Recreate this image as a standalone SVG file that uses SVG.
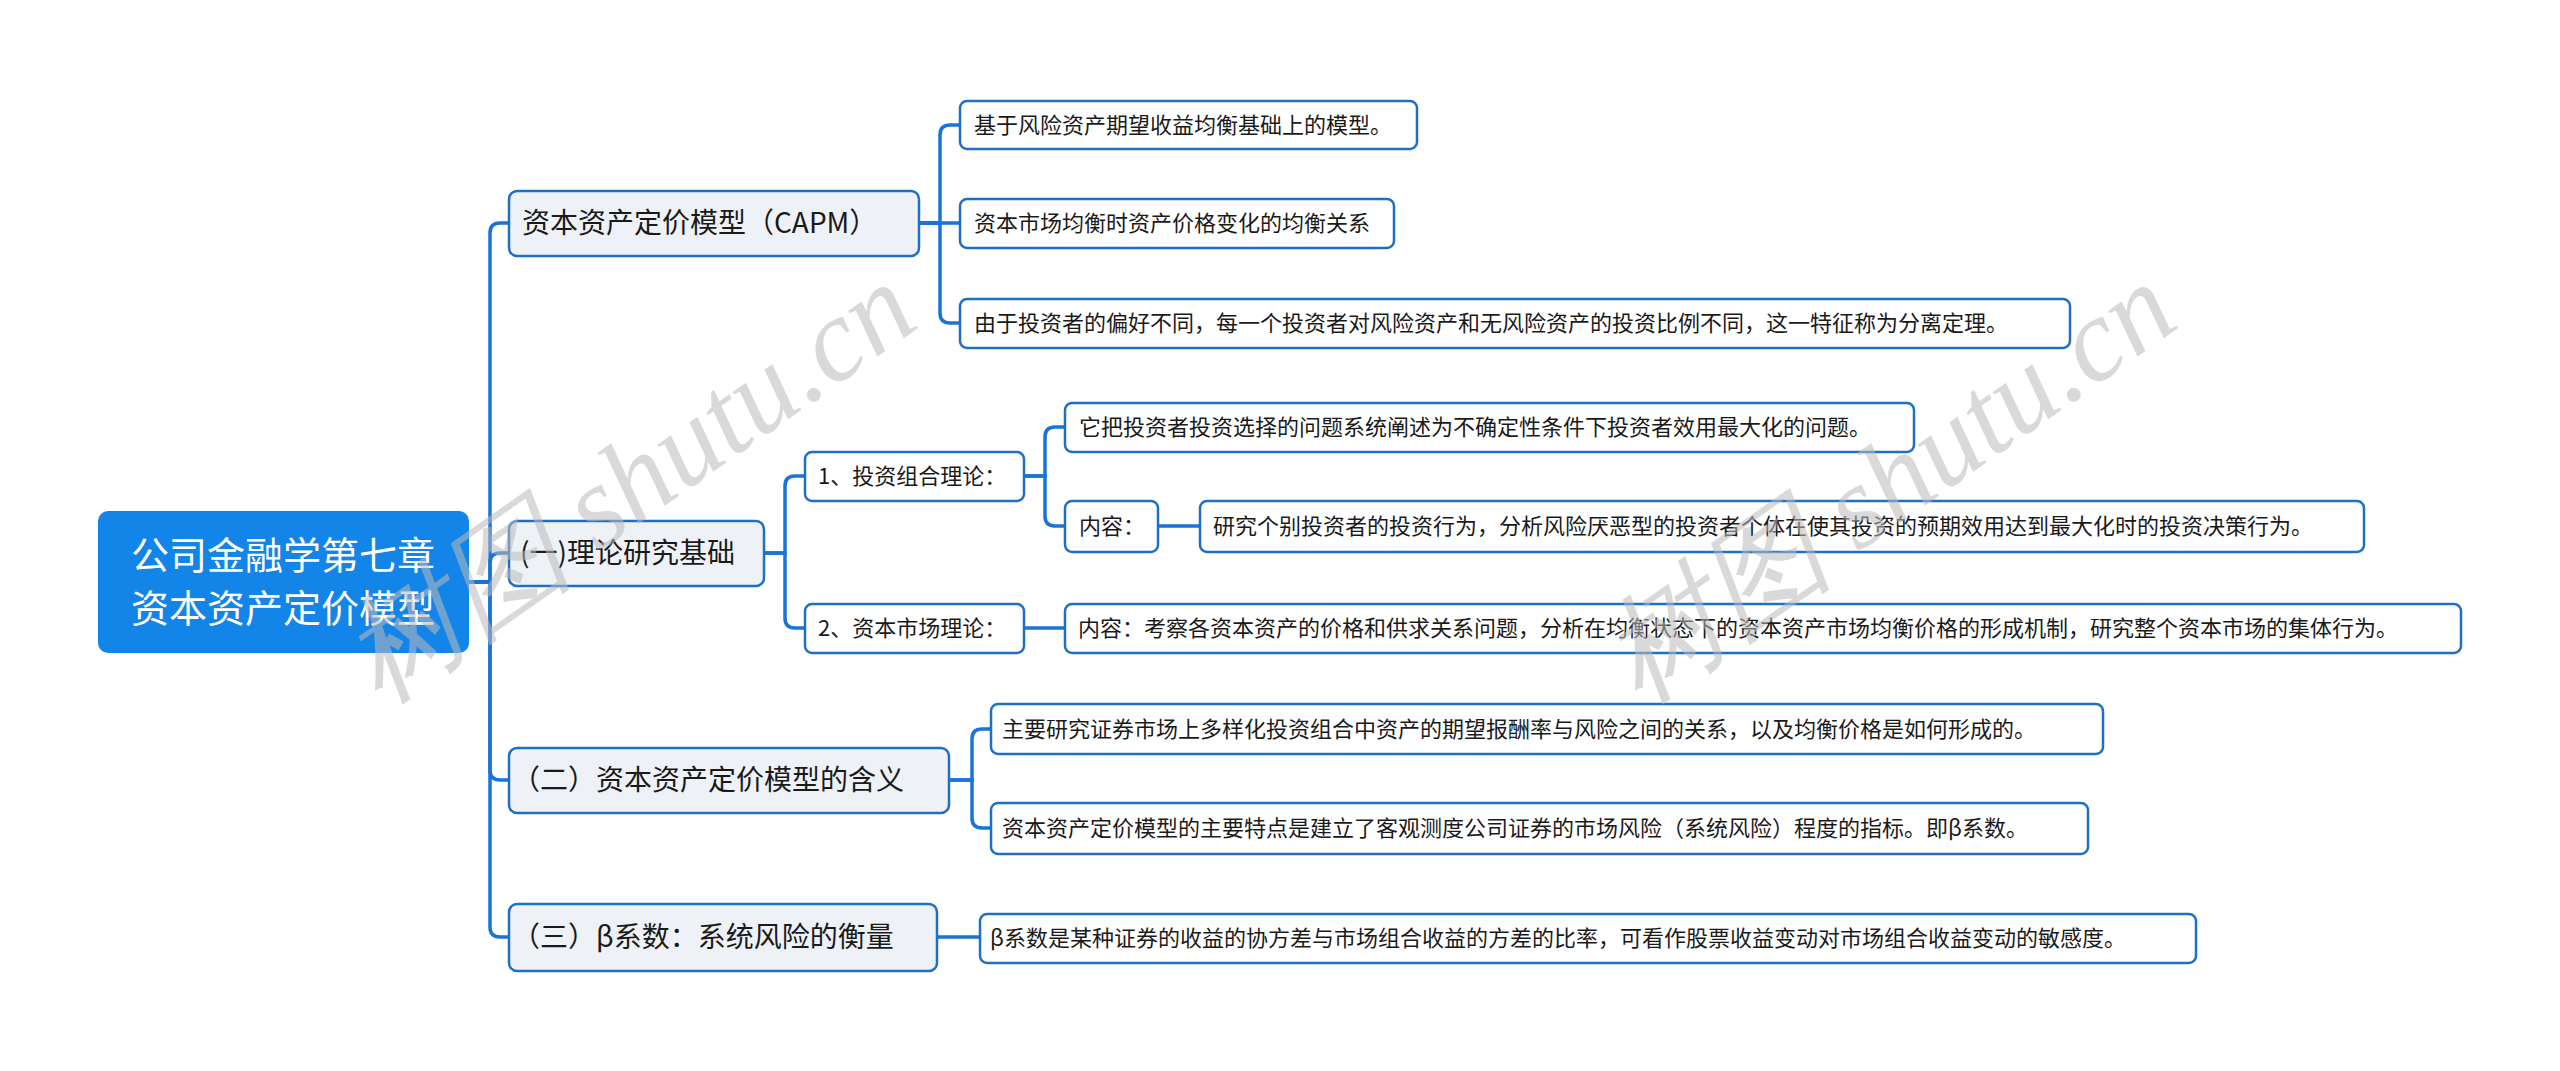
<svg xmlns="http://www.w3.org/2000/svg" width="2560" height="1071" viewBox="0 0 2560 1071">
<style>
text{font-family:"Noto Sans CJK SC","Liberation Sans",sans-serif;fill:#1a1a1a}
.l1 rect{fill:#eef2f7;stroke:#1f6fc5;stroke-width:2.5}
.l1 text{font-size:28px}
.lf rect{fill:#fff;stroke:#1f6fc5;stroke-width:2.5}
.lf text{font-size:22px}
.c path{fill:none;stroke:#1a73d9;stroke-width:3.5}
.wm{font-family:"Liberation Serif",serif;font-style:italic;font-size:118px;fill:#bbb;opacity:0.55}
</style>
<rect width="2560" height="1071" fill="#fff"/>
<g class="c">
<path d="M469 582 H490 V233 Q490 223 500 223 H509"/>
<path d="M469 582 H490 V563 Q490 553 500 553 H509"/>
<path d="M469 582 H490 V770 Q490 780 500 780 H509"/>
<path d="M469 582 H490 V927 Q490 937 500 937 H509"/>
<path d="M919 223 H940 V135 Q940 125 950 125 H960"/>
<path d="M919 223 H960"/>
<path d="M919 223 H940 V313 Q940 323 950 323 H960"/>
<path d="M764 553 H785 V486 Q785 476 795 476 H805"/>
<path d="M764 553 H785 V618 Q785 628 795 628 H805"/>
<path d="M1024 476 H1045 V437 Q1045 427 1055 427 H1065"/>
<path d="M1024 476 H1045 V516 Q1045 526 1055 526 H1065"/>
<path d="M1158 526 H1200"/>
<path d="M1024 628 H1065"/>
<path d="M949 780 H972 V739 Q972 729 982 729 H991"/>
<path d="M949 780 H972 V818 Q972 828 982 828 H991"/>
<path d="M937 937 H980"/>
</g>
<g id="root"><rect x="98" y="511" width="371" height="142" rx="10" fill="#1384e8"/>
<text x="283" y="569" text-anchor="middle" style="font-size:38px;fill:#fff">公司金融学第七章</text>
<text x="283" y="622" text-anchor="middle" style="font-size:38px;fill:#fff">资本资产定价模型</text></g>
<g id="n1" class="l1"><rect x="509" y="191" width="410" height="65" rx="8"/><text x="522" y="233">资本资产定价模型（CAPM）</text></g>
<g id="n2" class="l1"><rect x="509" y="521" width="255" height="65" rx="8"/><text x="520" y="563">(一)理论研究基础</text></g>
<g id="n3" class="l1"><rect x="509" y="748" width="440" height="65" rx="8"/><text x="512" y="790">（二）资本资产定价模型的含义</text></g>
<g id="n4" class="l1"><rect x="509" y="904" width="428" height="67" rx="8"/><text x="512" y="947">（三）β系数：系统风险的衡量</text></g>
<g id="a1" class="lf"><rect x="960" y="101" width="457" height="48" rx="7"/><text x="974" y="133">基于风险资产期望收益均衡基础上的模型。</text></g>
<g id="a2" class="lf"><rect x="960" y="199" width="434" height="49" rx="7"/><text x="974" y="231">资本市场均衡时资产价格变化的均衡关系</text></g>
<g id="a3" class="lf"><rect x="960" y="299" width="1110" height="49" rx="7"/><text x="974" y="331">由于投资者的偏好不同，每一个投资者对风险资产和无风险资产的投资比例不同，这一特征称为分离定理。</text></g>
<g id="b1" class="lf"><rect x="805" y="452" width="219" height="49" rx="7"/><text x="818" y="484">1、投资组合理论：</text></g>
<g id="b2" class="lf"><rect x="805" y="604" width="219" height="49" rx="7"/><text x="818" y="636">2、资本市场理论：</text></g>
<g id="b11" class="lf"><rect x="1065" y="403" width="849" height="49" rx="7"/><text x="1079" y="435">它把投资者投资选择的问题系统阐述为不确定性条件下投资者效用最大化的问题。</text></g>
<g id="b12" class="lf"><rect x="1065" y="501" width="93" height="51" rx="7"/><text x="1079" y="534">内容：</text></g>
<g id="b121" class="lf"><rect x="1200" y="501" width="1164" height="51" rx="7"/><text x="1213" y="534">研究个别投资者的投资行为，分析风险厌恶型的投资者个体在使其投资的预期效用达到最大化时的投资决策行为。</text></g>
<g id="b21" class="lf"><rect x="1065" y="604" width="1396" height="49" rx="7"/><text x="1078" y="636">内容：考察各资本资产的价格和供求关系问题，分析在均衡状态下的资本资产市场均衡价格的形成机制，研究整个资本市场的集体行为。</text></g>
<g id="c1" class="lf"><rect x="991" y="704" width="1112" height="50" rx="7"/><text x="1002" y="737">主要研究证券市场上多样化投资组合中资产的期望报酬率与风险之间的关系，以及均衡价格是如何形成的。</text></g>
<g id="c2" class="lf"><rect x="991" y="803" width="1097" height="51" rx="7"/><text x="1002" y="836">资本资产定价模型的主要特点是建立了客观测度公司证券的市场风险（系统风险）程度的指标。即β系数。</text></g>
<g id="d1" class="lf"><rect x="980" y="914" width="1216" height="49" rx="7"/><text x="990" y="946">β系数是某种证券的收益的协方差与市场组合收益的方差的比率，可看作股票收益变动对市场组合收益变动的敏感度。</text></g>
<text class="wm" transform="translate(380 705) rotate(-35)">树图 shutu.cn</text>
<text class="wm" transform="translate(1640 705) rotate(-35)">树图 shutu.cn</text>
</svg>
